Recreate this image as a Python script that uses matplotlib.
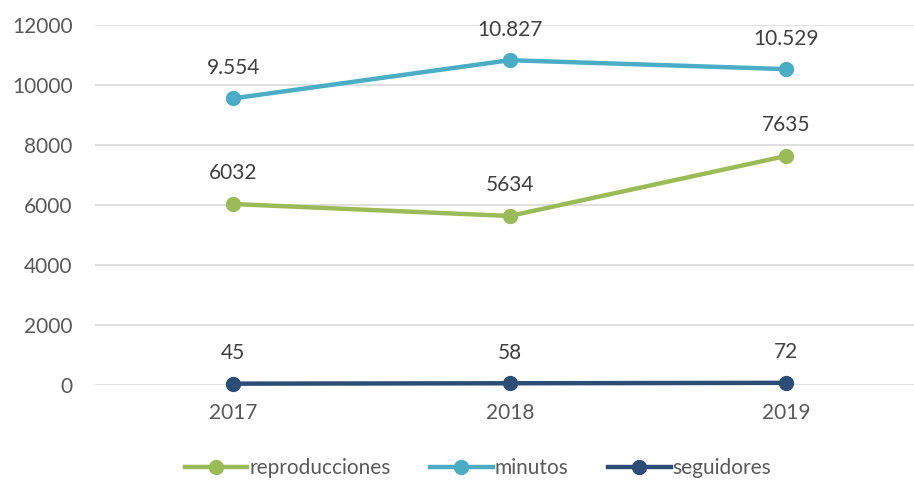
import matplotlib
matplotlib.use("Agg")
import matplotlib.pyplot as plt

years = ["2017", "2018", "2019"]
reproducciones = [6032, 5634, 7635]
minutos = [9554, 10827, 10529]
seguidores = [45, 58, 72]
labels_repro = ["6032", "5634", "7635"]
labels_min = ["9.554", "10.827", "10.529"]
labels_seg = ["45", "58", "72"]

plt.rcParams["font.family"] = ["Lato", "DejaVu Sans"]
text_col = "#595959"
fs = 15

fig = plt.figure(figsize=(9.14, 4.83), dpi=100)
ax = fig.add_axes([95 / 914, 1 - 385 / 483, 1 - 95 / 914, 360 / 483])

x = list(range(len(years)))
series = [
    ("reproducciones", reproducciones, labels_repro, "#9BBB59"),
    ("minutos", minutos, labels_min, "#4BACC6"),
    ("seguidores", seguidores, labels_seg, "#2C4D75"),
]
for name, vals, labs, col in series:
    ax.plot(x, vals, "-o", color=col, lw=3.2, ms=10, label=name, zorder=3,
            clip_on=False)
    for xi, v, t in zip(x, vals, labs):
        ax.annotate(t, (xi, v), xytext=(0, 22), textcoords="offset points",
                    ha="center", va="center", fontsize=fs, color="#404040")

ax.set_xlim(-0.5, -0.5 + (914 - 95) / 276.5)
ax.set_ylim(0, 12000)
ax.set_yticks(range(0, 12001, 2000))
ax.set_xticks(x)
ax.set_xticklabels(years)
ax.grid(axis="y", color="#D9D9D9", lw=1.2, zorder=0)
ax.set_axisbelow(True)
for s in ax.spines.values():
    s.set_visible(False)
ax.tick_params(length=0, labelsize=fs, colors=text_col)
ax.tick_params(axis="x", pad=13)
ax.tick_params(axis="y", pad=16)

leg = fig.legend(loc="center", bbox_to_anchor=(478 / 914, 1 - 468 / 483), ncol=3,
                 frameon=False, fontsize=fs, handlelength=3.0, handletextpad=0.1,
                 columnspacing=1.9)
for t in leg.get_texts():
    t.set_color(text_col)

fig.savefig("out.png", dpi=100)
